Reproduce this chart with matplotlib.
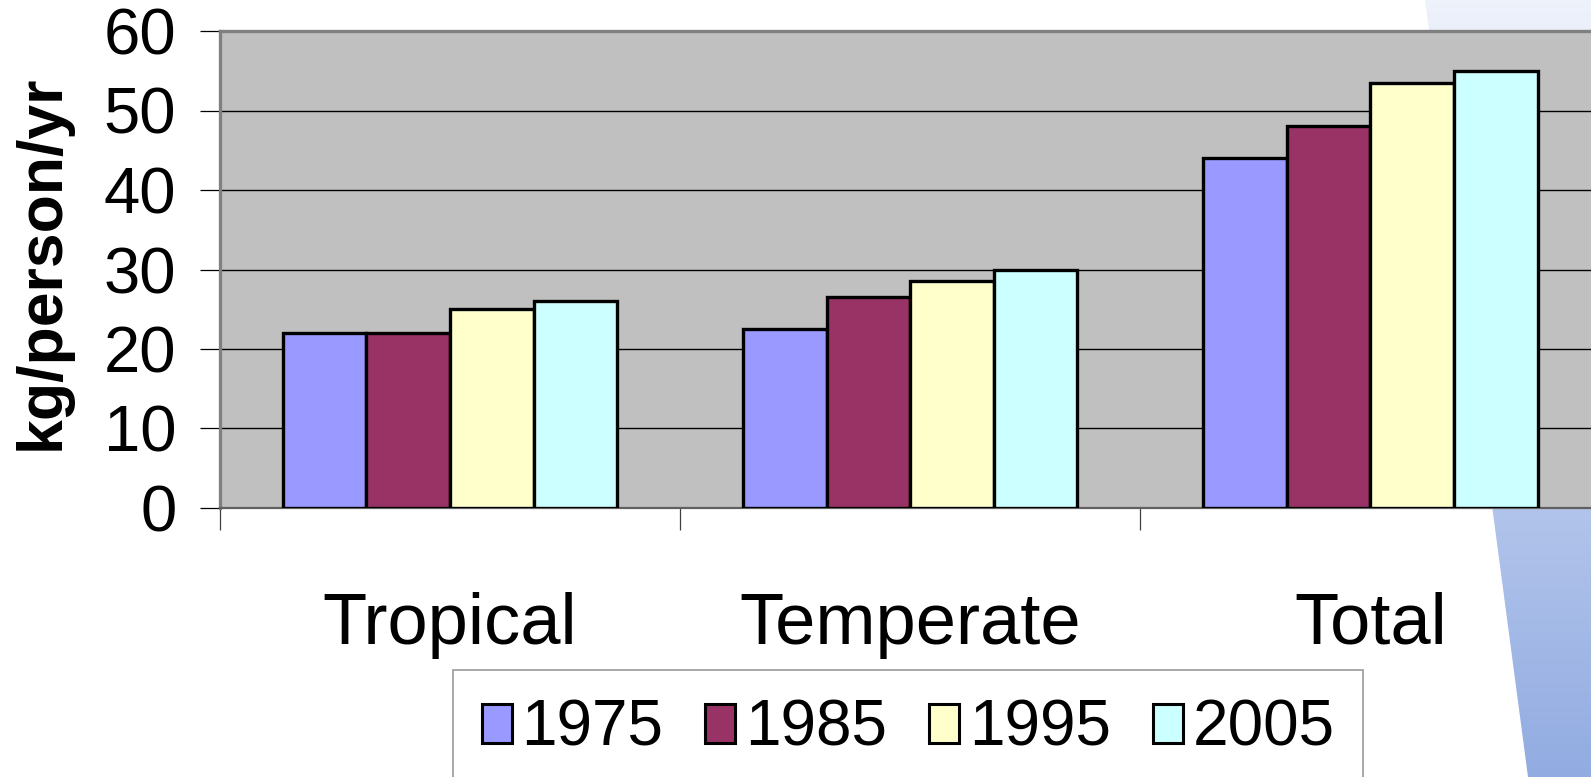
import numpy as np
import matplotlib
matplotlib.use("Agg")
import matplotlib.pyplot as plt
from matplotlib.colors import LinearSegmentedColormap
from matplotlib.patches import Polygon

plt.rcParams['font.family'] = ['Liberation Sans', 'DejaVu Sans']

categories = ["Tropical", "Temperate", "Total"]
years = ["1975", "1985", "1995", "2005"]
v1975 = [22, 22.5, 44]
v1985 = [22, 26.5, 48]
v1995 = [25, 28.5, 53.5]
v2005 = [26, 30, 55]
series = [v1975, v1985, v1995, v2005]
colors = ["#9999FF", "#993366", "#FFFFCC", "#CCFFFF"]

W, H = 1591, 777
fig = plt.figure(figsize=(W / 100, H / 100), dpi=100)

# decorative slide background (gradient wedge on the right)
bg = fig.add_axes([0, 0, 1, 1], zorder=0)
bg.axis('off')
bg.set_xlim(0, W)
bg.set_ylim(H, 0)
cmap = LinearSegmentedColormap.from_list("slide", ["#EEF2FB", "#92ACE2"])
grad = np.linspace(0, 1, 256).reshape(-1, 1)
im = bg.imshow(grad, extent=[0, W, H, 0], aspect='auto', cmap=cmap)
wedge = Polygon([(1425, 0), (W, 0), (W, H), (1528, H)], closed=True,
                facecolor='none', edgecolor='none', transform=bg.transData)
bg.add_patch(wedge)
im.set_clip_path(wedge)

# plot area
ax = fig.add_axes([220 / W, 1 - 508 / H, 1380.5 / W, 477 / H], zorder=1)
ax.set_facecolor("#C0C0C0")
ax.set_xlim(-0.5, 2.5)
ax.set_ylim(0, 60)

x = np.arange(len(categories))
w = 0.1817
for i, vals in enumerate(series):
    ax.bar(x + (i - 1.5) * w, vals, width=w, color=colors[i],
           edgecolor='black', linewidth=2.4, label=years[i], zorder=3)

ax.set_yticks(range(0, 61, 10))
ax.yaxis.grid(True, color='black', linewidth=1.0)
ax.set_axisbelow(True)
ax.tick_params(axis='y', direction='out', length=14.4, width=0.9,
               color='black', labelsize=47, pad=17)

ax.set_xticks([-0.5, 0.5, 1.5, 2.5])
ax.set_xticklabels([])
ax.tick_params(axis='x', direction='out', length=16, width=0.9, color='#404040')

for i, c in enumerate(categories):
    ax.text(x[i], -136 / 477, c, transform=ax.get_xaxis_transform(),
            ha='center', va='baseline', fontsize=52)

for s in ['left', 'top']:
    ax.spines[s].set_color('#808080')
    ax.spines[s].set_linewidth(2.4)
ax.spines['bottom'].set_color('#606060')
ax.spines['bottom'].set_linewidth(1.6)
ax.spines['right'].set_visible(False)

fig.text(42.5 / W, 1 - 262 / H, "kg/person/yr", rotation=90, ha='center',
         va='center', fontsize=45, fontweight='bold')

leg = fig.legend(loc='upper left', bbox_to_anchor=(453 / W, 1 - 670 / H),
                 ncol=4, fontsize=46, frameon=True, fancybox=False,
                 borderaxespad=0, borderpad=0.45, handlelength=0.47,
                 handleheight=0.56, handletextpad=0.15, columnspacing=0.66)
leg.get_frame().set_edgecolor('#808080')
leg.get_frame().set_linewidth(1.2)
leg.set_zorder(2)
for p in leg.get_patches():
    p.set_linewidth(2.2)

fig.savefig("out.png", dpi=100)
